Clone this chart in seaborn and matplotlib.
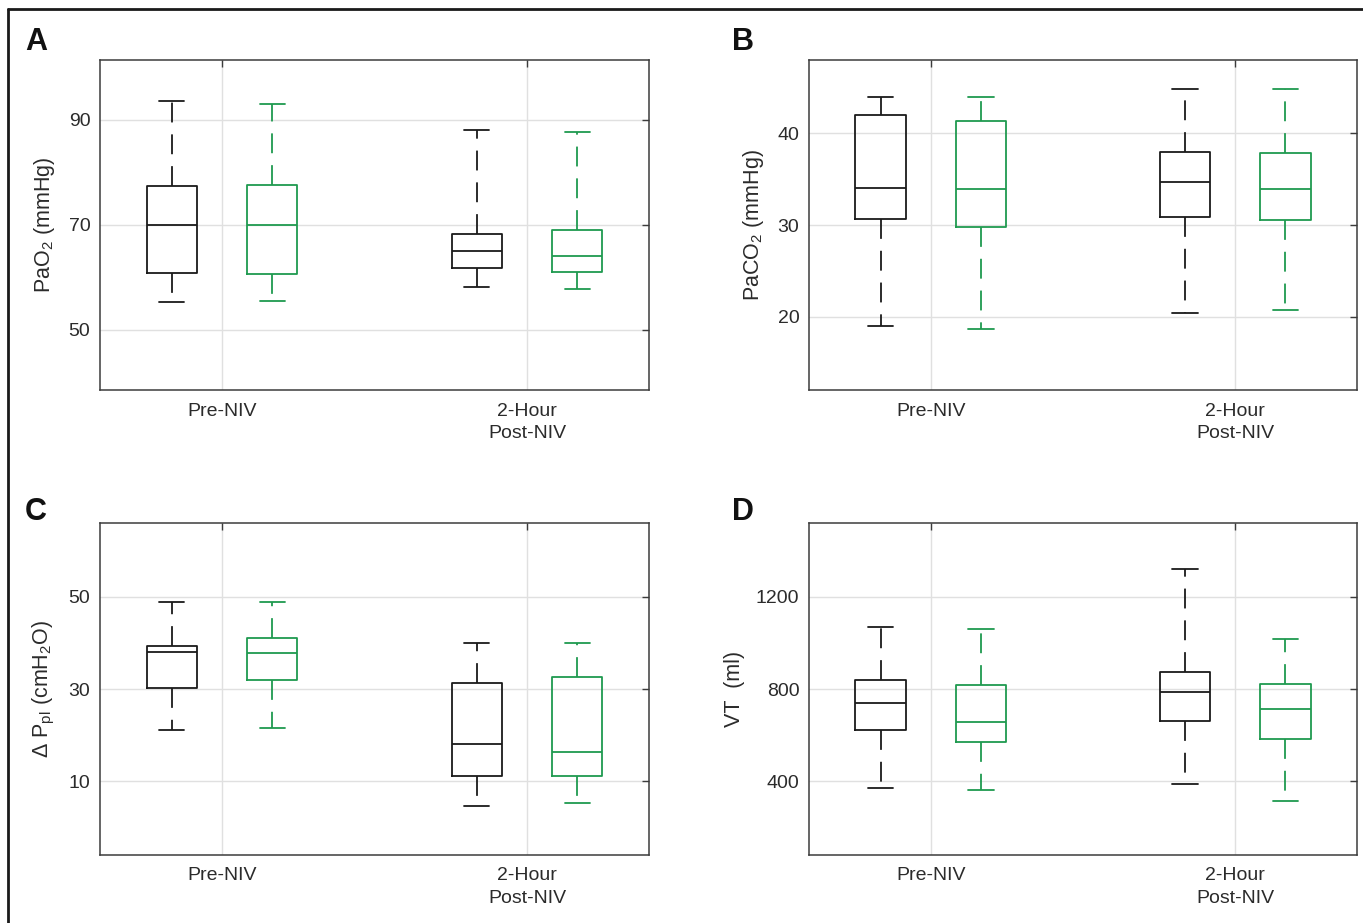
import numpy as np
import pandas as pd
import matplotlib
matplotlib.use("Agg")
import matplotlib.pyplot as plt
import seaborn as sns
from matplotlib.lines import Line2D

# ---------------- data (five-number summaries: min, Q1, median, Q3, max) ----------------
categories = ["Pre-NIV", "2-Hour\nPost-NIV"]
groups = ["Group 1", "Group 2"]
colors = ["#1a1a1a", "#1f9a4f"]

pao2_pre_g1 = [55.3, 60.8, 70.0, 77.3, 93.5]
pao2_pre_g2 = [55.4, 60.6, 70.0, 77.6, 93.1]
pao2_post_g1 = [58.2, 61.8, 65.0, 68.2, 88.0]
pao2_post_g2 = [57.7, 60.9, 64.1, 69.0, 87.7]

paco2_pre_g1 = [19.0, 30.7, 34.0, 42.0, 44.0]
paco2_pre_g2 = [18.7, 29.8, 33.95, 41.4, 44.0]
paco2_post_g1 = [20.4, 30.9, 34.7, 38.0, 44.8]
paco2_post_g2 = [20.7, 30.6, 33.9, 37.9, 44.8]

dppl_pre_g1 = [21.0, 30.2, 37.95, 39.25, 48.9]
dppl_pre_g2 = [21.6, 31.9, 37.9, 41.1, 48.9]
dppl_post_g1 = [4.7, 11.1, 18.1, 31.3, 40.0]
dppl_post_g2 = [5.2, 11.2, 16.3, 32.5, 40.0]

vt_pre_g1 = [371, 622, 738, 840, 1067]
vt_pre_g2 = [364, 570, 658, 819, 1060]
vt_post_g1 = [387, 663, 787, 875, 1321]
vt_post_g2 = [315, 582, 715, 823, 1015]

panel_letters = ["A", "B", "C", "D"]
ylabels = ["PaO$_2$ (mmHg)", "PaCO$_2$ (mmHg)",
           "$\\Delta$ P$_{pl}$ (cmH$_2$O)", "VT  (ml)"]
yticks = [[50, 70, 90], [20, 30, 40], [10, 30, 50], [400, 800, 1200]]
ylims = [(38.5, 101.4), (12, 48), (-6, 66), (80, 1520)]


def make_df(pre1, pre2, post1, post2):
    rows = []
    for cat, grp, vals in [(categories[0], groups[0], pre1), (categories[0], groups[1], pre2),
                           (categories[1], groups[0], post1), (categories[1], groups[1], post2)]:
        for v in vals:
            rows.append({"time": cat, "group": grp, "value": v})
    return pd.DataFrame(rows)


dfs = [make_df(pao2_pre_g1, pao2_pre_g2, pao2_post_g1, pao2_post_g2),
       make_df(paco2_pre_g1, paco2_pre_g2, paco2_post_g1, paco2_post_g2),
       make_df(dppl_pre_g1, dppl_pre_g2, dppl_post_g1, dppl_post_g2),
       make_df(vt_pre_g1, vt_pre_g2, vt_post_g1, vt_post_g2)]

# ---------------- style ----------------
sns.set_theme(style="white")
plt.rcParams["font.family"] = ["Liberation Sans", "DejaVu Sans"]
plt.rcParams["mathtext.fontset"] = "custom"
plt.rcParams["mathtext.rm"] = "Liberation Sans"
plt.rcParams["mathtext.it"] = "Liberation Sans:italic"
plt.rcParams["mathtext.default"] = "regular"

W, H = 1363, 923
fig = plt.figure(figsize=(W / 100, H / 100), dpi=100)
fig.patch.set_facecolor("white")

# axes boxes in pixels: left, right, top, bottom
boxes = [(100, 649, 60, 390), (809, 1357, 60, 390),
         (100, 649, 523, 855), (809, 1357, 523, 855)]
letter_pos = [(36, 42), (743, 42), (36, 512), (743, 512)]

spine_col = "#3c3c3c"
text_col = "#2b2b2b"

for i, (l, r, t, b) in enumerate(boxes):
    ax = fig.add_axes([l / W, 1 - b / H, (r - l) / W, (b - t) / H])
    sns.boxplot(data=dfs[i], x="time", y="value", hue="group",
                order=categories, hue_order=groups, palette=colors,
                fill=False, width=0.66, gap=0.5, whis=(0, 100),
                linewidth=1.3, showfliers=False, legend=False,
                whiskerprops={"linestyle": (0, (11, 6.6))},
                ax=ax)
    ax.set_xlim(-0.4, 1.4)
    ax.set_ylim(*ylims[i])
    ax.set_yticks(yticks[i])
    ax.set_xlabel("")
    ax.set_ylabel(ylabels[i], fontsize=15.5, color=text_col, labelpad=8)
    ax.grid(True, color="#e0e0e0", linewidth=1.0)
    ax.set_axisbelow(True)
    for s in ax.spines.values():
        s.set_visible(True)
        s.set_color(spine_col)
        s.set_linewidth(1.1)
    ax.tick_params(axis="both", direction="in", length=5, width=1.0,
                   color=spine_col, top=True, right=True,
                   labelsize=14, labelcolor=text_col)
    ax.tick_params(axis="y", pad=7)
    ax.tick_params(axis="x", pad=9)
    for tl in ax.get_xticklabels():
        tl.set_linespacing(1.4)
    fig.text(letter_pos[i][0] / W, 1 - letter_pos[i][1] / H, panel_letters[i],
             fontsize=22, fontweight="bold", color="#111111",
             ha="center", va="center")

# outer frame (top and left edges)
fig.add_artist(Line2D([8 / W, 1.0], [1 - 9 / H, 1 - 9 / H], color="#1a1a1a",
                      linewidth=2.0, transform=fig.transFigure))
fig.add_artist(Line2D([8 / W, 8 / W], [0.0, 1 - 9 / H], color="#1a1a1a",
                      linewidth=2.0, transform=fig.transFigure))

fig.savefig("out.png", dpi=100, facecolor="white")
